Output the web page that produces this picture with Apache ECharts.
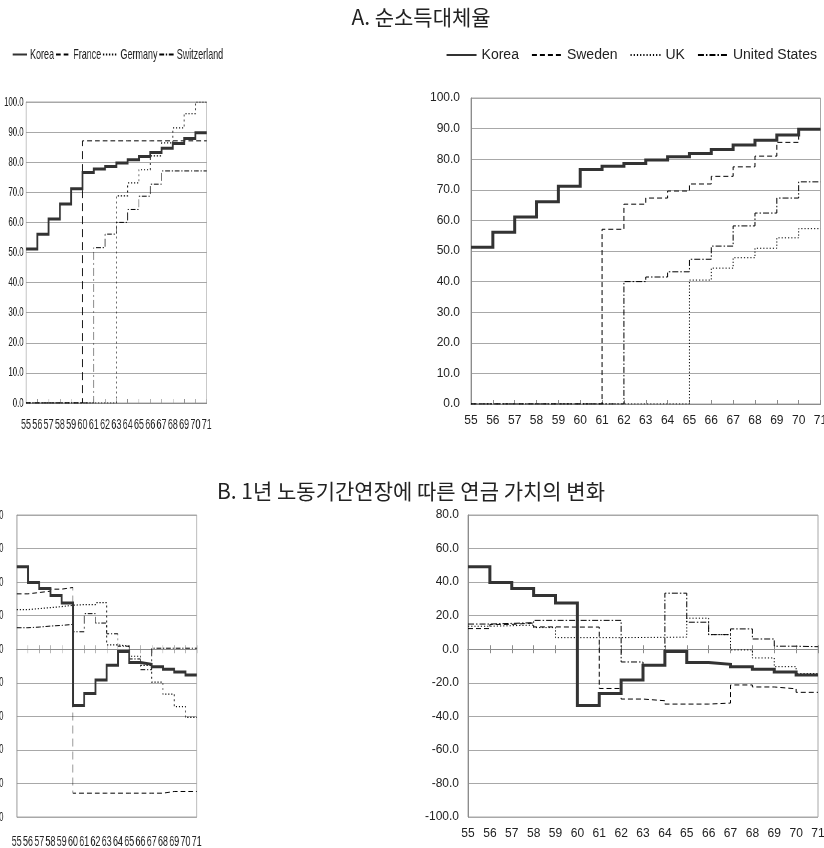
<!DOCTYPE html>
<html><head><meta charset="utf-8">
<script src="https://cdn.jsdelivr.net/npm/echarts@6/dist/echarts.min.js"></script>
<style>
html,body{margin:0;padding:0;background:#fff;}
#main{position:absolute;left:0;top:0;width:824px;height:848px;}
#left{position:absolute;left:0;top:0;width:383px;height:848px;transform:scaleX(0.6);transform-origin:0 0;}
</style></head><body>
<div id="main"></div><div id="left"></div>
<script>
// ---------- data ----------
const YEARS = ['55','56','57','58','59','60','61','62','63','64','65','66','67','68','69','70','71'];
const Y_TICKS_A = [0,10,20,30,40,50,60,70,80,90,100];
const Y_TICKS_B = [-100,-80,-60,-40,-20,0,20,40,60,80];

const TITLE_A = 'A. 순소득대체율';
const TITLE_B = 'B. 1년 노동기간연장에 따른 연금 가치의 변화';

// A. net replacement rate
const A_KOREA   = [51.2,56.1,61.1,66.1,71.2,76.6,77.7,78.6,79.7,80.8,81.9,83.2,84.6,86.2,87.9,89.8,89.8];
const A_SWEDEN  = [0,0,0,0,0,0,57.1,65.3,67.3,69.6,71.9,74.4,77.5,81.0,85.5,89.8,89.8];
const A_UK      = [0,0,0,0,0,0,0,0,0,0,40.5,44.4,47.8,50.9,54.3,57.3,57.3];
const A_US      = [0,0,0,0,0,0,0,40.0,41.5,43.2,47.3,51.6,58.2,62.4,67.3,72.6,72.6];
const A_FRANCE  = [0,0,0,0,0,87.1,87.1,87.1,87.1,87.1,87.1,87.1,87.1,87.1,87.1,87.1,87.1];
const A_GERMANY = [0,0,0,0,0,0,0,0,68.8,73.1,77.5,82.1,86.4,91.4,96.1,100,100];
const A_SWISS   = [0,0,0,0,0,0,51.6,56.1,60.0,64.3,68.7,72.7,77.1,77.1,77.1,77.1,77.1];

// B. change in pension wealth from one more year of work
const B_KOREA   = [49.2,39.8,36.2,32.0,27.5,-33.5,-26.4,-18.4,-9.5,-1.4,-7.9,-9.0,-10.4,-12.0,-13.6,-15.4,-15.4];
const B_SWEDEN  = [12.3,14.8,15.6,13.3,13.2,13.2,-23.4,-29.7,-30.7,-32.7,-32.7,-32.1,-21.3,-22.5,-23.6,-25.7,-25.7];
const B_UK      = [13.7,14.0,14.4,12.9,6.9,6.9,6.9,7.0,7.1,7.2,18.5,8.7,-0.4,-5.2,-10.4,-14.5,-14.5];
const B_US      = [15.0,15.4,15.8,17.2,17.2,17.2,17.2,-7.6,-9.2,33.4,16.1,8.7,12.1,6.1,1.8,1.5,1.5];
const B_FRANCE  = [33.0,33.8,34.6,35.8,36.8,-85.8,-85.8,-85.8,-85.8,-85.8,-85.8,-85.8,-85.8,-84.8,-84.8,-84.8,-84.8];
const B_GERMANY = [23.6,24.2,24.8,25.4,26.2,26.6,26.6,27.8,2.6,1.8,-4.2,-9.6,-19.6,-26.8,-34.2,-40.6,-40.6];
const B_SWISS   = [12.8,13.2,13.8,14.2,14.8,10.4,21.2,15.6,9.2,1.8,-5.8,-12.2,0.6,0.6,0.6,0.6,0.6];

// ---------- styling helpers ----------
const FONT = "'Liberation Sans', Arial, sans-serif";
const KFONT = "'Noto Sans CJK KR', sans-serif";
const GRID_COLOR = '#a8a8a8';
const AXIS_COLOR = '#8c8c8c';
const TXT = '#222';

function lineSeries(name, data, xi, yi, st) {
  return {
    type: 'line', name: name, data: data, xAxisIndex: xi, yAxisIndex: yi,
    step: 'end', symbol: 'none', showSymbol: false, silent: true, animation: false,
    z: name === 'Korea' ? 6 : 3,
    lineStyle: { color: st.color, width: st.width, type: st.type, cap: 'butt', join: 'miter' },
    itemStyle: { color: st.color }
  };
}
function valueAxis(ticks, gi, margin, fs) {
  return {
    type: 'value', gridIndex: gi,
    min: ticks[0], max: ticks[ticks.length - 1], interval: ticks[1] - ticks[0],
    axisLine: { show: true, lineStyle: { color: AXIS_COLOR, width: 1 } },
    axisTick: { show: false },
    axisLabel: { margin: margin, fontSize: fs, color: TXT, fontFamily: FONT, formatter: v => v.toFixed(1) },
    splitLine: { show: true, lineStyle: { color: GRID_COLOR, width: 1 } }
  };
}
function catAxisBase(gi) {
  return { type: 'category', gridIndex: gi, data: YEARS, boundaryGap: false, splitLine: { show: false } };
}
function topAxisX(gi, margin, fs) {
  return Object.assign(catAxisBase(gi), {
    axisLine: { lineStyle: { color: AXIS_COLOR } },
    axisTick: { inside: true, length: 4, interval: 0, lineStyle: { color: AXIS_COLOR } },
    axisLabel: { interval: 0, margin: margin, fontSize: fs, color: TXT, fontFamily: FONT }
  });
}
function bottomAxesX(gi, yIdx, margin, fs) {
  return [
    Object.assign(catAxisBase(gi), {
      position: 'bottom',
      axisLine: { show: false, onZero: false },
      axisTick: { show: false },
      axisLabel: { interval: 0, margin: margin, fontSize: fs, color: TXT, fontFamily: FONT }
    }),
    Object.assign(catAxisBase(gi), {
      position: 'bottom',
      axisLine: { show: true, onZero: true, onZeroAxisIndex: yIdx, lineStyle: { color: AXIS_COLOR } },
      axisTick: { show: true, length: 4, interval: 0, lineStyle: { color: AXIS_COLOR } },
      axisLabel: { show: false }
    }),
    Object.assign(catAxisBase(gi), {
      position: 'top',
      axisLine: { show: true, onZero: true, onZeroAxisIndex: yIdx, lineStyle: { color: AXIS_COLOR } },
      axisTick: { show: true, length: 4, interval: 0, lineStyle: { color: AXIS_COLOR } },
      axisLabel: { show: false }
    })
  ];
}
const gridBox = { show: true, borderColor: GRID_COLOR, borderWidth: 1, containLabel: false, outerBoundsMode: 'none' };
const legendStyle = { opacity: 0, borderWidth: 0 };

// ---------- main (right-hand charts + titles) ----------
const R_STY = {
  'Korea': { color: '#333', width: 3, type: 'solid' },
  'Sweden': { color: '#000', width: 1, type: [5, 3] },
  'UK': { color: '#000', width: 1, type: [1.2, 2] },
  'United States': { color: '#000', width: 1, type: [6, 2, 1.5, 2] }
};
const main = echarts.init(document.getElementById('main'), null, { renderer: 'canvas' });
main.setOption({
  animation: false,
  backgroundColor: 'transparent',
  title: [
    { text: TITLE_A, left: 421, textAlign: 'center', top: 7, padding: 0,
      textStyle: { fontFamily: KFONT, fontSize: 21, fontWeight: 'normal', color: TXT } },
    { text: TITLE_B, left: 411, textAlign: 'center', top: 481, padding: 0,
      textStyle: { fontFamily: KFONT, fontSize: 21, fontWeight: 'normal', color: TXT } }
  ],
  legend: {
    data: ['Korea', 'Sweden', 'UK', 'United States'],
    right: 2, top: 43, itemGap: 12, itemWidth: 30, itemHeight: 14, itemStyle: legendStyle,
    textStyle: { fontSize: 14, color: TXT, fontFamily: FONT }
  },
  grid: [
    Object.assign({ left: 471, top: 98, width: 349.5, height: 306 }, gridBox),
    Object.assign({ left: 468, top: 515, width: 350, height: 302 }, gridBox)
  ],
  xAxis: [topAxisX(0, 11, 12)].concat(bottomAxesX(1, 1, 11, 12)),
  yAxis: [valueAxis(Y_TICKS_A, 0, 11, 12), valueAxis(Y_TICKS_B, 1, 9, 12)],
  series: [
    lineSeries('Sweden', A_SWEDEN, 0, 0, R_STY['Sweden']),
    lineSeries('UK', A_UK, 0, 0, R_STY['UK']),
    lineSeries('United States', A_US, 0, 0, R_STY['United States']),
    lineSeries('Korea', A_KOREA, 0, 0, R_STY['Korea']),
    lineSeries('Sweden', B_SWEDEN, 1, 1, R_STY['Sweden']),
    lineSeries('UK', B_UK, 1, 1, R_STY['UK']),
    lineSeries('United States', B_US, 1, 1, R_STY['United States']),
    lineSeries('Korea', B_KOREA, 1, 1, R_STY['Korea'])
  ]
});

// ---------- left-hand charts (drawn wide, squeezed horizontally) ----------
const L_STY = {
  'Korea': { color: '#333', width: 3, type: 'solid' },
  'France': { color: '#000', width: 1, type: [8, 5] },
  'Germany': { color: '#000', width: 1.2, type: [2, 3] },
  'Switzerland': { color: '#000', width: 1, type: [8, 3, 2, 3] }
};
const left = echarts.init(document.getElementById('left'), null, { renderer: 'canvas' });
left.setOption({
  animation: false,
  backgroundColor: 'transparent',
  legend: {
    data: ['Korea', 'France', 'Germany', 'Switzerland'],
    left: 15, top: 42, itemGap: 2, itemWidth: 24, itemHeight: 16, itemStyle: legendStyle,
    textStyle: { fontSize: 15, color: TXT, fontFamily: FONT }
  },
  grid: [
    Object.assign({ left: 43.3, top: 102, width: 301.2, height: 301 }, gridBox),
    Object.assign({ left: 27.8, top: 515, width: 300, height: 302 }, gridBox)
  ],
  xAxis: [topAxisX(0, 14, 15)].concat(bottomAxesX(1, 1, 17, 15)),
  yAxis: [valueAxis(Y_TICKS_A, 0, 4, 13), valueAxis(Y_TICKS_B, 1, 22, 13)],
  series: [
    lineSeries('France', A_FRANCE, 0, 0, L_STY['France']),
    lineSeries('Germany', A_GERMANY, 0, 0, L_STY['Germany']),
    lineSeries('Switzerland', A_SWISS, 0, 0, L_STY['Switzerland']),
    lineSeries('Korea', A_KOREA, 0, 0, L_STY['Korea']),
    lineSeries('France', B_FRANCE, 1, 1, L_STY['France']),
    lineSeries('Germany', B_GERMANY, 1, 1, L_STY['Germany']),
    lineSeries('Switzerland', B_SWISS, 1, 1, L_STY['Switzerland']),
    lineSeries('Korea', B_KOREA, 1, 1, L_STY['Korea'])
  ]
});
</script>
</body></html>
